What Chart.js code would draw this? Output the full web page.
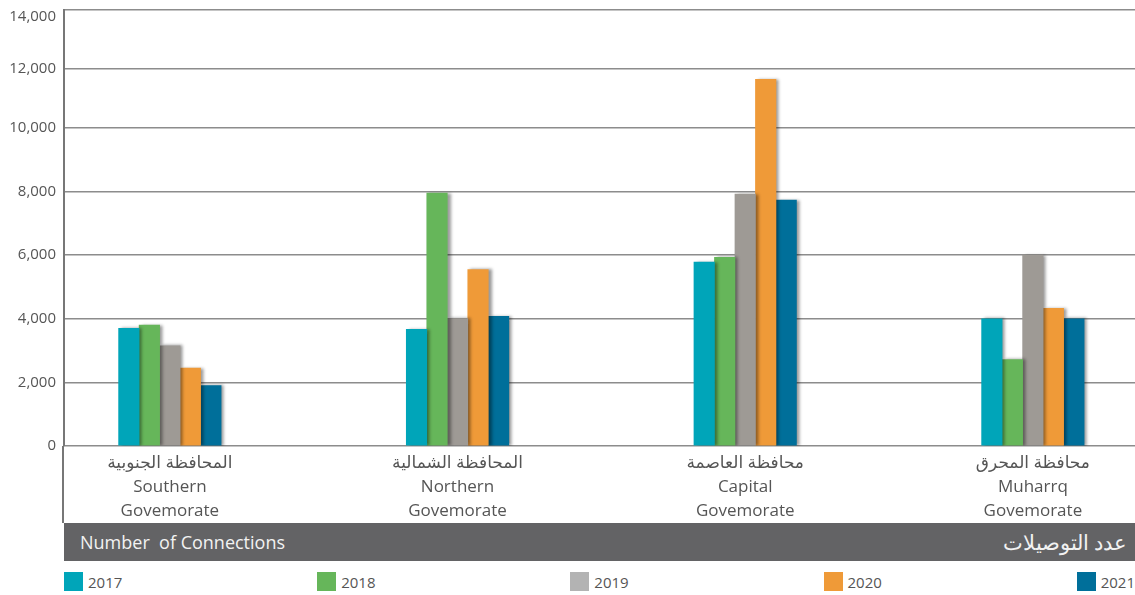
<!DOCTYPE html>
<html><head><meta charset="utf-8">
<script src="https://cdn.jsdelivr.net/npm/chart.js@4.4.1/dist/chart.umd.min.js"></script>
<style>
html,body{margin:0;padding:0;background:#fff;width:1135px;height:595px;overflow:hidden;font-family:"Open Sans",sans-serif;}
#wrap{position:absolute;left:0;top:0;width:1135px;height:523px;}
#band{position:absolute;left:64px;top:523px;width:1071px;height:38px;background:#636365;color:#f2f2f2;font-size:18px;}
#band .en{position:absolute;left:16px;top:0;line-height:38px;white-space:pre;}
#band .ar{position:absolute;right:8px;top:0;line-height:38px;direction:rtl;font-size:21px;}
#legend{position:absolute;left:64px;top:572px;width:1071px;display:flex;justify-content:space-between;}
.item{display:flex;align-items:center;font-size:15px;color:#555;height:19px;}
.sw{width:19px;height:19px;margin-right:5px;}
</style></head>
<body>
<div id="wrap"><canvas id="c" width="1135" height="523"></canvas></div>
<div id="band"><span class="en">Number  of Connections</span><span class="ar">عدد التوصيلات</span></div>
<div id="legend"></div>
<script>
const categoriesAr = ['المحافظة الجنوبية','المحافظة الشمالية','محافظة العاصمة','محافظة المحرق'];
const categoriesEn = ['Southern','Northern','Capital','Muharrq'];
const categorySuffix = 'Govemorate';
const years = ['2017','2018','2019','2020','2021'];
const v2017 = [3700, 3670, 5780, 4000];
const v2018 = [3800, 7950, 5930, 2720];
const v2019 = [3150, 4010, 7920, 6000];
const v2020 = [2450, 5550, 11650, 4330];
const v2021 = [1900, 4080, 7730, 4000];
const yTickValues = [0, 2000, 4000, 6000, 8000, 10000, 12000, 14000];

const seriesValues = [v2017, v2018, v2019, v2020, v2021];
const barColors = ['#00a5b9', '#66b65a', '#9e9a95', '#ef9a38', '#006f9a'];
const legendColors = ['#00a5b9', '#66b65a', '#b3b3b3', '#ef9a38', '#006f9a'];

// Axis in the reference is slightly compressed above 10,000
class PiecewiseScale extends Chart.LinearScale {
  static id = 'piecewise';
  static defaults = Chart.LinearScale.defaults;
  getPixelForValue(value) {
    const split = 10000, fs = 0.7294;
    let f;
    if (value <= split) f = (value - this.min) / (split - this.min) * fs;
    else f = fs + (value - split) / (this.max - split) * (1 - fs);
    return this.getPixelForDecimal(f);
  }
  getValueForPixel(pixel) {
    const split = 10000, fs = 0.7294;
    const d = this.getDecimalForPixel(pixel);
    if (d <= fs) return this.min + d / fs * (split - this.min);
    return split + (d - fs) / (1 - fs) * (this.max - split);
  }
}
Chart.register(PiecewiseScale);

const shadowPlugin = {
  id: 'barShadow',
  beforeDatasetsDraw(chart) {
    const ctx = chart.ctx;
    ctx.save();
    ctx.shadowColor = 'rgba(0,0,0,0.4)';
    ctx.shadowOffsetX = 3;
    ctx.shadowOffsetY = 0;
    ctx.shadowBlur = 3;
  },
  afterDatasetsDraw(chart) { chart.ctx.restore(); }
};
const axisExtend = {
  id: 'axisExtend',
  afterDraw(chart) {
    const ctx = chart.ctx, a = chart.chartArea;
    ctx.save();
    ctx.strokeStyle = '#777';
    ctx.lineWidth = 2;
    ctx.beginPath();
    ctx.moveTo(a.left - 1, a.bottom);
    ctx.lineTo(a.left - 1, chart.height);
    ctx.stroke();
    ctx.restore();
  }
};

const yMax = yTickValues[yTickValues.length - 1];

new Chart(document.getElementById('c'), {
  type: 'bar',
  data: {
    datasets: years.map((y, k) => ({
      label: y,
      data: seriesValues[k].map((v, i) => ({ x: i, y: v })),
      backgroundColor: barColors[k],
      borderWidth: 0,
      barThickness: 20.5
    }))
  },
  options: {
    responsive: false,
    devicePixelRatio: 1,
    animation: false,
    layout: { padding: { top: 0, right: 0, left: 0, bottom: 0 } },
    plugins: { legend: { display: false }, tooltip: { enabled: false } },
    scales: {
      x: {
        type: 'linear',
        min: -0.368,
        max: 3.355,
        offset: false,
        grid: { display: false, drawTicks: false },
        border: { display: false },
        afterBuildTicks: s => { s.ticks = categoriesEn.map((_, i) => ({ value: i })); },
        afterFit: s => { s.height = 77; },
        ticks: {
          autoSkip: false, maxRotation: 0, minRotation: 0, padding: 5,
          color: '#555',
          font: { family: '"Open Sans", "DejaVu Sans", sans-serif', size: 17, lineHeight: 1.42 },
          callback: v => [categoriesAr[v], categoriesEn[v], categorySuffix]
        }
      },
      y: {
        type: 'piecewise',
        min: 0,
        max: yMax,
        afterBuildTicks: s => { s.ticks = yTickValues.map(v => ({ value: v })); },
        afterFit: s => { s.width = 64; s.paddingTop = 10; s.paddingBottom = 0; },
        grid: { color: '#8c8c8c', lineWidth: 1.6, drawTicks: false },
        border: { color: '#777', width: 2 },
        ticks: {
          padding: 8, color: '#555',
          font: c => (c.tick && c.tick.value === yMax)
            ? { family: '"Open Sans", sans-serif', size: 15, lineHeight: 0.95 }
            : { family: '"Open Sans", sans-serif', size: 15 },
          callback: v => v === yMax ? ['', Number(v).toLocaleString('en-US')] : Number(v).toLocaleString('en-US')
        }
      }
    }
  },
  plugins: [shadowPlugin, axisExtend]
});

const lg = document.getElementById('legend');
years.forEach((y, k) => {
  const it = document.createElement('div');
  it.className = 'item';
  const sw = document.createElement('span');
  sw.className = 'sw';
  sw.style.background = legendColors[k];
  it.appendChild(sw);
  it.appendChild(document.createTextNode(y));
  lg.appendChild(it);
});
</script>
</body></html>
